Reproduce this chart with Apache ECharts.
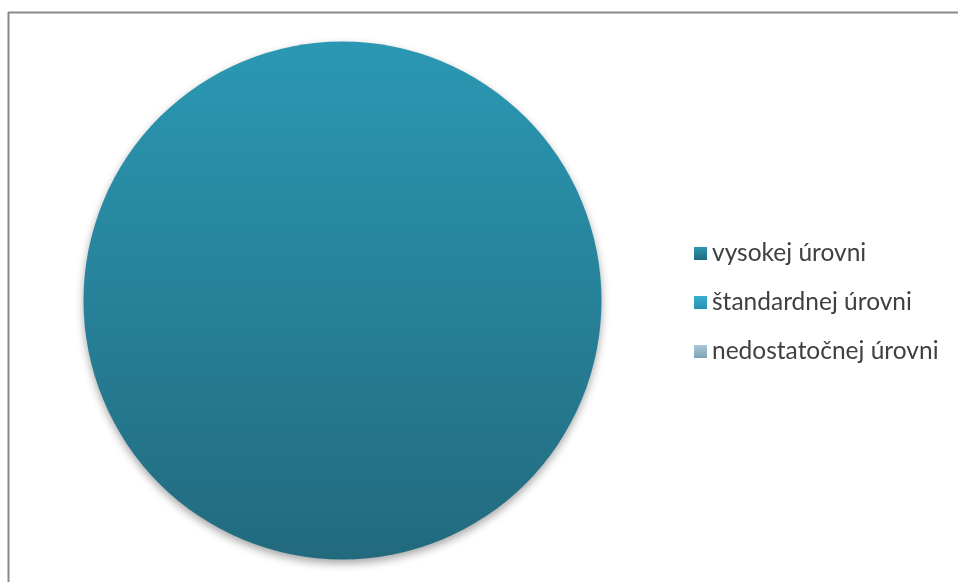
<!DOCTYPE html>
<html>
<head>
<meta charset="utf-8">
<script src="https://cdn.jsdelivr.net/npm/echarts@6/dist/echarts.min.js"></script>
<style>
  html, body { margin: 0; padding: 0; background: #fff; }
  #chart { width: 958px; height: 582px; }
</style>
</head>
<body>
<div id="chart"></div>
<script>
// kategórie a hodnoty
const categories = ['vysokej úrovni', 'štandardnej úrovni', 'nedostatočnej úrovni'];
const values = [100, 0, 0];
// farby (horná, dolná časť gradientu)
const colorsTop = ['#2b98b3', '#37b0d2', '#a9c8d6'];
const colorsBottom = ['#226a7e', '#2a8fb0', '#7fa3b4'];

function grad(i) {
  return new echarts.graphic.LinearGradient(0, 0, 0, 1, [
    { offset: 0, color: colorsTop[i] },
    { offset: 1, color: colorsBottom[i] }
  ]);
}

const chart = echarts.init(document.getElementById('chart'), null, { renderer: 'canvas' });

let option = {
  animation: false,
  legend: {
    orient: 'vertical',
    left: 689,
    top: 236,
    itemWidth: 13,
    itemHeight: 13,
    itemGap: 24,
    icon: 'rect',
    textStyle: {
      fontFamily: 'Lato',
      fontSize: 24.5,
      lineHeight: 25,
      color: '#404040'
    },
    data: categories
  },
  graphic: [
    // rámček grafu
    { type: 'line', shape: { x1: 8, y1: 12.5, x2: 958, y2: 12.5 }, style: { stroke: '#8a8a8a', lineWidth: 2 } },
    { type: 'line', shape: { x1: 8.5, y1: 12, x2: 8.5, y2: 582 }, style: { stroke: '#8a8a8a', lineWidth: 2 } }
  ],
  series: [{
    type: 'pie',
    center: [342.5, 300.5],
    radius: 259,
    startAngle: 90,
    label: { show: false },
    labelLine: { show: false },
    stillShowZeroSum: true,
    emphasis: { disabled: true },
    itemStyle: {
      shadowBlur: 8,
      shadowOffsetY: 4,
      shadowColor: 'rgba(0,0,0,0.35)'
    },
    data: categories.map((name, i) => ({
      name: name,
      value: values[i],
      itemStyle: { color: grad(i) }
    }))
  }]
};

chart.setOption(option);
</script>
</body>
</html>
